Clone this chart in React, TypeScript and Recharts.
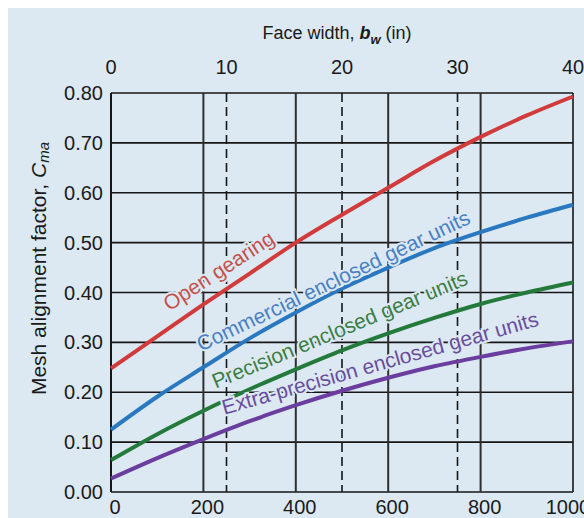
import type { ReactElement } from 'react';
import { Label, Line, LineChart, ReferenceDot, ReferenceLine, XAxis, YAxis } from 'recharts';

// face width in mm along the bottom axis
const FACE_WIDTH_MM = [0, 100, 200, 300, 400, 500, 600, 700, 800, 900, 1000];

// mesh alignment factor Cma
const OPEN_GEARING = [0.248, 0.312, 0.376, 0.438, 0.5, 0.556, 0.61, 0.664, 0.712, 0.755, 0.793];
const COMMERCIAL = [0.125, 0.191, 0.25, 0.308, 0.36, 0.408, 0.45, 0.489, 0.521, 0.55, 0.576];
const PRECISION = [0.064, 0.116, 0.163, 0.206, 0.246, 0.284, 0.318, 0.349, 0.377, 0.4, 0.42];
const EXTRA_PRECISION = [0.027, 0.068, 0.106, 0.142, 0.174, 0.203, 0.229, 0.252, 0.271, 0.288, 0.302];

const MM_TICKS = [0, 200, 400, 600, 800, 1000];
const MM_GRID = [200, 400, 600, 800];
const IN_TICKS = [0, 10, 20, 30, 40];
const IN_GRID = [10, 20, 30];
const C_TICKS = [0, 0.1, 0.2, 0.3, 0.4, 0.5, 0.6, 0.7, 0.8];

const BG = '#dce9f3';
const INK = '#1a1a1a';
const FONT = '"Liberation Sans", Arial, Helvetica, sans-serif';

const rows = FACE_WIDTH_MM.map((mm, i) => ({
  mm,
  open: OPEN_GEARING[i],
  commercial: COMMERCIAL[i],
  precision: PRECISION[i],
  extra: EXTRA_PRECISION[i],
}));

// curve captions: where the text starts (data coords) and its slant
const CAPTIONS = [
  { text: 'Open gearing', mm: 126, c: 0.362, angle: 33, color: '#c64f4c' },
  { text: 'Commercial enclosed gear units', mm: 195, c: 0.281, angle: 25.5, color: '#4a80c2' },
  { text: 'Precision enclosed gear units', mm: 227, c: 0.207, angle: 22.5, color: '#3c7d45' },
  { text: 'Extra-precision enclosed gear units', mm: 245, c: 0.155, angle: 15.8, color: '#6a4d9c' },
];

function TopTitle(props: any): ReactElement {
  const vb = props.viewBox;
  return (
    <text x={vb.x + vb.width / 2 - 5} y={vb.y - 24} textAnchor="middle" fontSize={18} fill={INK} fontFamily={FONT}>
      Face width,{' '}
      <tspan fontStyle="italic" fontWeight="bold">b</tspan>
      <tspan fontStyle="italic" fontWeight="bold" fontSize={13} dy={5}>w</tspan>
      <tspan dy={-5}> (in)</tspan>
    </text>
  );
}

function SideTitle(props: any): ReactElement {
  const vb = props.viewBox;
  const cx = vb.x - 13;
  const cy = vb.y + vb.height / 2 - 24;
  return (
    <text
      x={cx}
      y={cy}
      transform={`rotate(-90, ${cx}, ${cy})`}
      textAnchor="middle"
      dominantBaseline="central"
      fontSize={21}
      fill={INK}
      fontFamily={FONT}
    >
      Mesh alignment factor,{' '}
      <tspan fontStyle="italic">C</tspan>
      <tspan fontStyle="italic" fontSize={15} dy={5}>ma</tspan>
    </text>
  );
}

export default function App(): ReactElement {
  return (
    <div style={{ position: 'fixed', left: 8, top: 8, right: 0, bottom: 0, background: BG, overflow: 'hidden' }}>
      <LineChart
        width={576}
        height={510}
        data={rows}
        margin={{ top: 55, right: 11, bottom: 0, left: 43 }}
        style={{ fontFamily: FONT }}
      >
        <XAxis
          xAxisId="mm"
          dataKey="mm"
          type="number"
          domain={[0, 1000]}
          ticks={MM_TICKS}
          height={26}
          axisLine={false}
          tickLine={false}
          tickSize={0}
          tickMargin={8}
          tick={{ fontSize: 20, fill: INK, dx: 4 }}
        />
        <XAxis
          xAxisId="in"
          dataKey="mm"
          orientation="top"
          type="number"
          domain={[0, 40]}
          allowDataOverflow
          ticks={IN_TICKS}
          interval={0}
          height={30}
          axisLine={false}
          tickLine={false}
          tickSize={0}
          tickMargin={19}
          tick={{ fontSize: 20, fill: INK }}
        >
          <Label content={TopTitle} position="top" />
        </XAxis>
        <YAxis
          type="number"
          domain={[0, 0.8]}
          ticks={C_TICKS}
          width={60}
          axisLine={false}
          tickLine={false}
          tickSize={0}
          tickMargin={8}
          tickFormatter={(v: number) => v.toFixed(2)}
          tick={{ fontSize: 20, fill: INK }}
        >
          <Label content={SideTitle} position="left" />
        </YAxis>

        {C_TICKS.map((c) => (
          <ReferenceLine key={`h${c}`} xAxisId="mm" y={c} stroke="#161616" strokeWidth={1.6} />
        ))}
        {MM_GRID.map((m) => (
          <ReferenceLine key={`v${m}`} xAxisId="mm" x={m} stroke="#2e2e2e" strokeWidth={2} />
        ))}
        {IN_GRID.map((w) => (
          <ReferenceLine key={`d${w}`} xAxisId="in" x={w} stroke="#161616" strokeWidth={1.6} strokeDasharray="9 5" />
        ))}
        <ReferenceLine xAxisId="mm" x={0} stroke="#161616" strokeWidth={2} />
        <ReferenceLine xAxisId="mm" x={1000} stroke="#161616" strokeWidth={1.6} />

        {CAPTIONS.map((cap) => (
          <ReferenceDot
            key={cap.text}
            xAxisId="mm"
            x={cap.mm}
            y={cap.c}
            shape={(p: any) => (
              <text
                x={p.cx}
                y={p.cy}
                transform={`rotate(${-cap.angle}, ${p.cx}, ${p.cy})`}
                fontSize={21}
                fill={cap.color}
                stroke={BG}
                strokeWidth={4}
                paintOrder="stroke"
                fontFamily={FONT}
              >
                {cap.text}
              </text>
            )}
          />
        ))}

        <Line xAxisId="mm" type="monotone" dataKey="open" stroke="#d23b3b" strokeWidth={4} dot={false} isAnimationActive={false} />
        <Line xAxisId="mm" type="monotone" dataKey="commercial" stroke="#2a79c0" strokeWidth={4} dot={false} isAnimationActive={false} />
        <Line xAxisId="mm" type="monotone" dataKey="precision" stroke="#237a3a" strokeWidth={4} dot={false} isAnimationActive={false} />
        <Line xAxisId="mm" type="monotone" dataKey="extra" stroke="#6b3d9e" strokeWidth={4} dot={false} isAnimationActive={false} />
      </LineChart>
    </div>
  );
}
